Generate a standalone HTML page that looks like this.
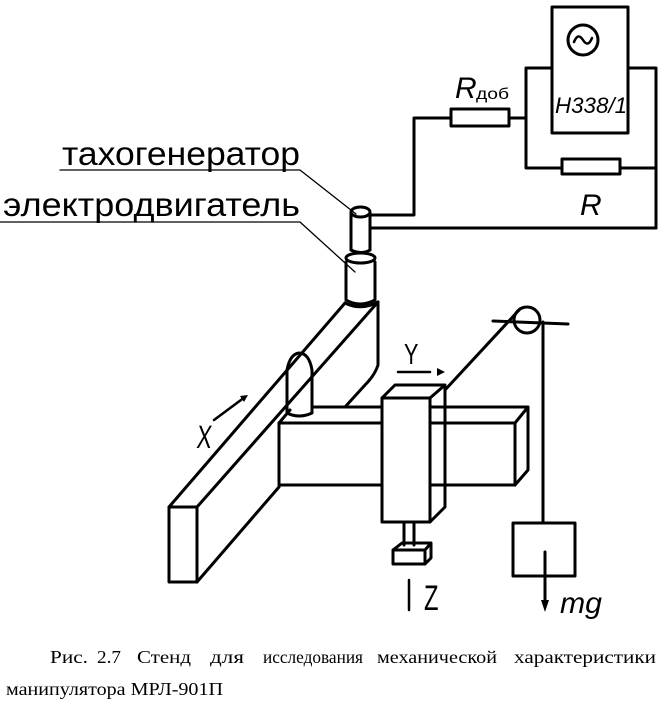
<!DOCTYPE html>
<html><head><meta charset="utf-8"><style>
html,body{margin:0;padding:0;background:#fff;}
svg{display:block;}
</style></head><body>
<svg width="668" height="706" viewBox="0 0 668 706" xmlns="http://www.w3.org/2000/svg">
<g fill="none" stroke="#000" stroke-width="3" stroke-linejoin="round" stroke-linecap="round">
<rect x="552" y="7" width="76" height="126"/>
<circle cx="583" cy="40" r="15"/>
<path d="M574 42 q4 -10 9 -2 q5 8 9 -2" stroke-width="2.5"/>
<path d="M526 68 H552 M628 68 H656 V228 M526 68 V168 H562 M620 168 H656"/>
<rect x="562" y="159" width="58" height="15"/>
<path d="M370 215 H414 V118 H451 M509 118 H526"/>
<rect x="451" y="109" width="58" height="17"/>
<path d="M370 228 H656"/>
<path d="M351 213 V250 M370 213 V250"/>
<ellipse cx="360.5" cy="212" rx="9.5" ry="5"/>
<path d="M351 250 q10 5 19 0"/>
<path d="M346 262 V300 q14 8 29 0 V262"/>
<ellipse cx="360.5" cy="258" rx="14.5" ry="5"/>
<path d="M60 170 H300 L356 214 M0 222 H300 L355 272" stroke-width="1.3"/>
<rect x="169" y="507" width="28" height="75"/>
<path d="M169 507 L345 303 M197 507 L378 302 M378 302 V365 Q375 375 365 385 L345 407 M197 582 L279 487"/>
<path d="M345 303 q16 8 33 -1"/>
<path d="M287 370 V413 q12 6 25 0 V370 M287 370 q3 -16 12 -17 q10 0 13 17"/>
<rect x="279" y="423" width="236" height="62"/>
<path d="M312 407 H383 M430 407 H528 V470 L515 485 M515 423 L528 407 M279 423 L290 410"/>
<rect x="382" y="398" width="48" height="124" fill="#fff"/>
<path d="M382 398 L395 385 H445 L430 398 M445 385 V507 L430 522"/>
<path d="M404 522 V545 M414 522 V545"/>
<path d="M393 550 V564 H425 V552 M393 550 H425 M393 550 L402 543 H431 L425 550 M431 543 V558 L425 564"/>
<circle cx="527" cy="320" r="13"/>
<path d="M493 321 L568 324 M445 390 L520 309 M543 322 V523"/>
<rect x="513" y="523" width="62" height="53"/>
<path d="M545 552 V603"/>
<path d="M214 420 L245 397 M398 372 H430 M409 580 V610" stroke-width="2.5"/>
</g>
<g fill="#000">
<path d="M541 600 L545 612 L549 600 Z"/>
<path d="M437 368 L445 372 L437 376 Z"/>
<path d="M240 396 L248 395 L244 402 Z"/>
</g>
<g font-family="Liberation Sans, sans-serif" fill="#000">
<text x="62" y="165" font-size="33" textLength="238" lengthAdjust="spacingAndGlyphs">тахогенератор</text>
<text x="3" y="216" font-size="33" textLength="297" lengthAdjust="spacingAndGlyphs">электродвигатель</text>
<text x="555" y="113" font-size="22" font-style="italic" textLength="72" lengthAdjust="spacingAndGlyphs">H338/1</text>
<text x="455" y="98" font-size="30" font-style="italic">R</text>
<text x="476" y="99" font-size="16" textLength="33" lengthAdjust="spacingAndGlyphs">доб</text>
<text x="580" y="215" font-size="30" font-style="italic">R</text>
<text x="0" y="0" font-size="26" transform="translate(196 448) scale(0.85 1.25) skewX(-8)">X</text>
<text x="0" y="0" font-size="24" transform="translate(404 364) scale(0.9 1.2)">Y</text>
<text x="0" y="0" font-size="28" transform="translate(424 610) scale(0.85 1.25)">Z</text>
<text x="560" y="613" font-size="30" font-style="italic" textLength="42" lengthAdjust="spacingAndGlyphs">mg</text>
</g>
<g font-family="Liberation Serif, serif" font-size="18" fill="#000">
<text x="50" y="663" textLength="38" lengthAdjust="spacingAndGlyphs">Рис.</text>
<text x="97" y="663" textLength="24" lengthAdjust="spacingAndGlyphs">2.7</text>
<text x="137" y="663" textLength="54" lengthAdjust="spacingAndGlyphs">Стенд</text>
<text x="210" y="663" textLength="34" lengthAdjust="spacingAndGlyphs">для</text>
<text x="263" y="663" textLength="100" lengthAdjust="spacingAndGlyphs">исследования</text>
<text x="377" y="663" textLength="120" lengthAdjust="spacingAndGlyphs">механической</text>
<text x="514" y="663" textLength="142" lengthAdjust="spacingAndGlyphs">характеристики</text>
<text x="6" y="695" textLength="217" lengthAdjust="spacingAndGlyphs">манипулятора МРЛ-901П</text>
</g>
</svg>
</body></html>
